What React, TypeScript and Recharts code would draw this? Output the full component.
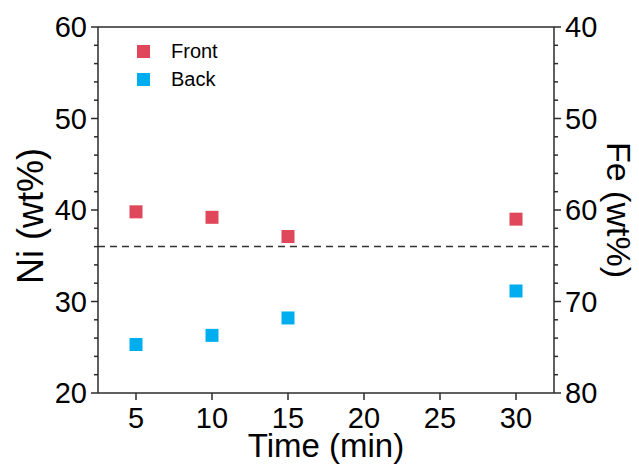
import * as React from "react";
import {
  ReferenceLine,
  Scatter,
  ScatterChart,
  XAxis,
  YAxis,
} from "recharts";

const times = [5, 10, 15, 30];
const frontNi = [39.8, 39.2, 37.1, 39.0];
const backNi = [25.3, 26.3, 28.2, 31.15];
const timeTicks = [5, 10, 15, 20, 25, 30];
const niTicks = [20, 22, 24, 26, 28, 30, 32, 34, 36, 38, 40, 42, 44, 46, 48, 50, 52, 54, 56, 58, 60];
const feTicks = [40, 42, 44, 46, 48, 50, 52, 54, 56, 58, 60, 62, 64, 66, 68, 70, 72, 74, 76, 78, 80];
const referenceNi = 36;

const RED = "#e0475b";
const BLUE = "#00aeef";
const AXIS = "#2b2b2b";
const FONT = "'Liberation Sans', Arial, sans-serif";

const frontData = times.map((t, i) => ({ time: t, ni: frontNi[i] }));
const backData = times.map((t, i) => ({ time: t, ni: backNi[i] }));

function Square(props: any) {
  const { cx, cy, fill } = props;
  const s = 13;
  return <rect x={cx - s / 2} y={cy - s / 2} width={s} height={s} fill={fill} />;
}

// y-axis ticks: major every 10 with label, minor every 2
function makeTick(side: "left" | "right") {
  return (props: any) => {
    const { x, y, payload } = props;
    const major = payload.value % 10 === 0;
    const len = major ? 7 : 4;
    const dir = side === "left" ? -1 : 1;
    return (
      <g>
        <line x1={x} x2={x + dir * len} y1={y} y2={y} stroke={AXIS} strokeWidth={1.5} />
        {major && (
          <text
            x={x + dir * 11}
            y={y}
            textAnchor={side === "left" ? "end" : "start"}
            dominantBaseline="central"
            fontSize={29}
            fontFamily={FONT}
            fill="#000"
          >
            {payload.value}
          </text>
        )}
      </g>
    );
  };
}

function LegendBox() {
  const items = [
    { name: "Front", color: RED },
    { name: "Back", color: BLUE },
  ];
  return (
    <div
      style={{
        position: "absolute",
        top: 37,
        left: 137,
        fontFamily: FONT,
        fontSize: 20,
        color: "#000",
      }}
    >
      {items.map((it) => (
        <div key={it.name} style={{ display: "flex", alignItems: "center", height: 28 }}>
          <span style={{ width: 13, height: 13, background: it.color, display: "inline-block" }} />
          <span style={{ marginLeft: 21 }}>{it.name}</span>
        </div>
      ))}
    </div>
  );
}

export default function App() {
  return (
    <div style={{ position: "absolute", left: 0, top: 0, width: 639, height: 465, background: "#fff" }}>
      <ScatterChart width={639} height={465} margin={{ top: 26, right: 0, bottom: 0, left: 0 }}>
        <XAxis
          xAxisId="top"
          orientation="top"
          type="number"
          dataKey="time"
          domain={[2.5, 32.5]}
          height={1}
          tick={false}
          tickLine={false}
          stroke={AXIS}
          strokeWidth={1.5}
        />
        <XAxis
          xAxisId="bottom"
          type="number"
          dataKey="time"
          domain={[2.5, 32.5]}
          ticks={timeTicks}
          height={72}
          tickSize={7}
          tickMargin={7}
          stroke={AXIS}
          strokeWidth={1.5}
          tick={{ fontSize: 29, fill: "#000", fontFamily: FONT }}
          label={{
            value: "Time (min)",
            position: "insideBottom",
            offset: 8,
            fontSize: 33,
            fill: "#000",
            fontFamily: FONT,
          }}
        />
        <YAxis
          yAxisId="ni"
          type="number"
          dataKey="ni"
          domain={[20, 60]}
          ticks={niTicks}
          interval={0}
          width={98}
          tickSize={0}
          tickMargin={0}
          tickLine={false}
          stroke={AXIS}
          strokeWidth={1.5}
          tick={makeTick("left")}
          label={{
            content: (p: any) => {
              const vb = p.viewBox;
              const cx = vb.x + 30;
              const cy = vb.y + vb.height / 2 + 6;
              return (
                <text
                  x={cx}
                  y={cy}
                  transform={`rotate(-90 ${cx} ${cy})`}
                  textAnchor="middle"
                  dominantBaseline="central"
                  fontSize={36}
                  fontFamily={FONT}
                  fill="#000"
                >
                  Ni (wt%)
                </text>
              );
            },
          }}
        />
        <YAxis
          yAxisId="fe"
          orientation="right"
          type="number"
          domain={[40, 80]}
          allowDataOverflow
          reversed
          ticks={feTicks}
          interval={0}
          width={85}
          tickSize={0}
          tickMargin={0}
          tickLine={false}
          stroke={AXIS}
          strokeWidth={1.5}
          tick={makeTick("right")}
          label={{
            content: (p: any) => {
              const vb = p.viewBox;
              const cx = vb.x + 65;
              const cy = vb.y + vb.height / 2;
              return (
                <text
                  x={cx}
                  y={cy}
                  transform={`rotate(90 ${cx} ${cy})`}
                  textAnchor="middle"
                  dominantBaseline="central"
                  fontSize={34}
                  fontFamily={FONT}
                  fill="#000"
                >
                  Fe (wt%)
                </text>
              );
            },
          }}
        />
        <ReferenceLine
          y={referenceNi}
          yAxisId="ni"
          xAxisId="bottom"
          stroke="#333"
          strokeWidth={1.5}
          strokeDasharray="7 5"
        />
        <Scatter
          name="Front"
          data={frontData}
          xAxisId="bottom"
          yAxisId="ni"
          fill={RED}
          shape={Square}
          isAnimationActive={false}
        />
        <Scatter
          name="Back"
          data={backData}
          xAxisId="bottom"
          yAxisId="ni"
          fill={BLUE}
          shape={Square}
          isAnimationActive={false}
        />
      </ScatterChart>
      <LegendBox />
    </div>
  );
}
